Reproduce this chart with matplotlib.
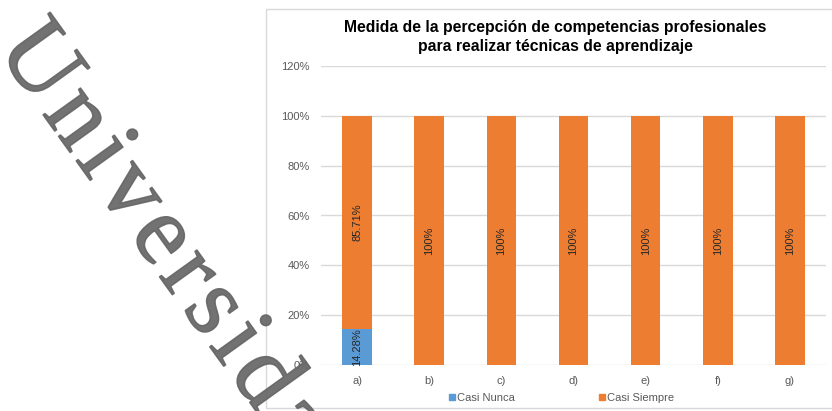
import numpy as np
import matplotlib
matplotlib.use('Agg')
import matplotlib.pyplot as plt
import matplotlib.patheffects as pe
from matplotlib.patches import Rectangle
from matplotlib.lines import Line2D
from matplotlib.path import Path
from matplotlib.textpath import TextPath
from matplotlib.font_manager import FontProperties

categories = ['a)', 'b)', 'c)', 'd)', 'e)', 'f)', 'g)']
casi_nunca = [14.28, 0, 0, 0, 0, 0, 0]
casi_siempre = [85.71, 100, 100, 100, 100, 100, 100]
labels_nunca = ['14.28%', '', '', '', '', '', '']
labels_siempre = ['85.71%', '100%', '100%', '100%', '100%', '100%', '100%']
yticks = [0, 20, 40, 60, 80, 100, 120]
ytick_labels = ['0%', '20%', '40%', '60%', '80%', '100%', '120%']
series_names = ['Casi Nunca', 'Casi Siempre']
title = 'Medida de la percepción de competencias profesionales\npara realizar técnicas de aprendizaje'
watermark = 'Universidad'

plt.rcParams['font.family'] = ['Liberation Sans', 'DejaVu Sans']

W, H = 832, 411
fig = plt.figure(figsize=(W / 100, H / 100), dpi=100)

# chart frame
fig.patches.append(Rectangle((266 / W, 1 - 408 / H), 1.0, 399 / H, transform=fig.transFigure,
                             facecolor='white', edgecolor='#d9d9d9', lw=1.0, zorder=-1))

ax = fig.add_axes([321 / W, 1 - 365 / H, (826 - 321) / W, (365 - 66) / H])
ax.set_zorder(1)
ax.set_facecolor('none')
blue = '#5b9bd5'
orange = '#ed7d31'
x = list(range(len(categories)))
b1 = ax.bar(x, casi_nunca, width=0.41, color=blue, zorder=3)
b2 = ax.bar(x, casi_siempre, width=0.41, bottom=casi_nunca, color=orange, zorder=3)
ax.bar_label(b1, labels=labels_nunca, label_type='center', rotation=90, fontsize=8, color='#262626')
ax.bar_label(b2, labels=labels_siempre, label_type='center', rotation=90, fontsize=8, color='#262626')

ax.set_xlim(-0.5, len(categories) - 0.5)
ax.set_ylim(0, 120)
ax.set_yticks(yticks)
ax.set_yticklabels(ytick_labels)
ax.set_xticks(x)
ax.set_xticklabels(categories)
ax.tick_params(axis='both', length=0, labelsize=8, colors='#595959')
ax.tick_params(axis='y', pad=8)
ax.tick_params(axis='x', pad=8)
for s in ax.spines.values():
    s.set_visible(False)
ax.yaxis.grid(True, color='#d9d9d9', lw=1.0, zorder=0)
ax.set_axisbelow(True)

fig.text(555 / W, 1 - 37 / H, title, ha='center', va='center', fontsize=11.3,
         fontweight='bold', color='#000000', linespacing=1.3)

handles = [Line2D([], [], marker='s', ls='none', color=blue, markersize=4.5),
           Line2D([], [], marker='s', ls='none', color=orange, markersize=4.5)]
fig.legend(handles, series_names, loc='center', bbox_to_anchor=(562 / W, 1 - 398 / H),
           ncol=2, frameon=False, fontsize=8, labelcolor='#595959', handlelength=0.5,
           handletextpad=0.2, columnspacing=7.6, borderpad=0)


# watermark: real text, drawn with letter tracking via a path effect
class Tracked(pe.AbstractPathEffect):
    def __init__(self, text, fp, track_fu, lw=0.0):
        super().__init__()
        self.counts = [int(np.sum(TextPath((0, 0), ch, size=10, prop=fp).codes == Path.MOVETO))
                       if ch.strip() else 0 for ch in text]
        self.track = track_fu
        self.lw = lw

    def draw_path(self, renderer, gc, tpath, affine, rgbFace=None):
        verts = np.array(tpath.vertices, dtype=float)
        codes = tpath.codes
        if codes is not None:
            starts = np.flatnonzero(codes == Path.MOVETO)
            gidx = np.repeat(np.arange(len(self.counts)), self.counts)
            if len(gidx) == len(starts):
                bounds = list(starts) + [len(codes)]
                for j in range(len(starts)):
                    verts[bounds[j]:bounds[j + 1], 0] += gidx[j] * self.track
        newpath = Path(verts, codes)
        gc0 = renderer.new_gc()
        gc0.copy_properties(gc)
        if self.lw > 0 and rgbFace is not None:
            gc0.set_linewidth(self.lw)
            gc0.set_foreground(rgbFace)
            gc0.set_joinstyle('round')
        renderer.draw_path(gc0, newpath, affine, rgbFace)
        gc0.restore()


wm_size = 72
wm_fp = FontProperties(family='Liberation Serif', size=wm_size)
em_px = wm_size * 100 / 72
track_px = 6.9
fig.text(-4.3 / W, 1 - 48.8 / H, watermark, rotation=-54.3, rotation_mode='anchor',
         ha='left', va='baseline', fontproperties=wm_fp,
         color='#666666', alpha=0.92, zorder=10,
         path_effects=[Tracked(watermark, wm_fp, track_px * 100 / em_px, lw=1.2)])

fig.savefig('out.png', dpi=100)
